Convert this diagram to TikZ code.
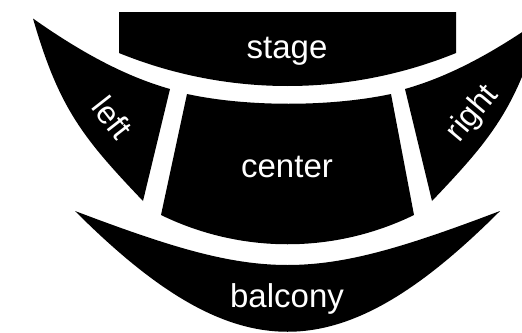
\documentclass[tikz,border=0pt]{standalone}
\usepackage{fontspec}
\setmainfont{Liberation Sans}
\begin{document}
\begin{tikzpicture}[x=1pt,y=-1pt,
  region/.style={fill=black,draw=none},
  lbl/.style={text=white,font=\fontsize{33}{40}\selectfont,inner sep=0pt},
  sidelbl/.style={text=white,font=\fontsize{32}{38}\selectfont,inner sep=0pt}]
\useasboundingbox (0,0) rectangle (522,332);
\clip (0,0) rectangle (522,332);
% stage
\fill[region] (119,12) -- (456,12) -- (456,53) .. controls (348,97) and (227,97) .. (119,53) -- cycle;
% left wing
\fill[region] (33,18.5) .. controls (79,51) and (124,76) .. (170,89) -- (143,201) .. controls (83,138) and (59,108.5) .. (33,18.5) -- cycle;
% right wing
\fill[region] (542,18.5) .. controls (496,51) and (451,76) .. (405,89) -- (432,201) .. controls (492,138) and (516,108.5) .. (542,18.5) -- cycle;
% center
\fill[region] (187,94) .. controls (247,107) and (330,107) .. (391,94) -- (414,215) .. controls (334,254) and (241,254) .. (161,215) -- cycle;
% balcony
\fill[region] (75,211) .. controls (265,283) and (310,283) .. (500,211) .. controls (339,372) and (236,372) .. (75,211) -- cycle;
% labels
\node[lbl,anchor=base] (stage) at (287,58) {stage};
\node[lbl,anchor=base] (center) at (287,177) {center};
\node[lbl,anchor=base] (balcony) at (287,307) {balcony};
\node[sidelbl,rotate=-52] (left) at (112.5,117.5) {left};
\node[sidelbl,rotate=50] (right) at (473,114) {right};
\end{tikzpicture}
\end{document}
